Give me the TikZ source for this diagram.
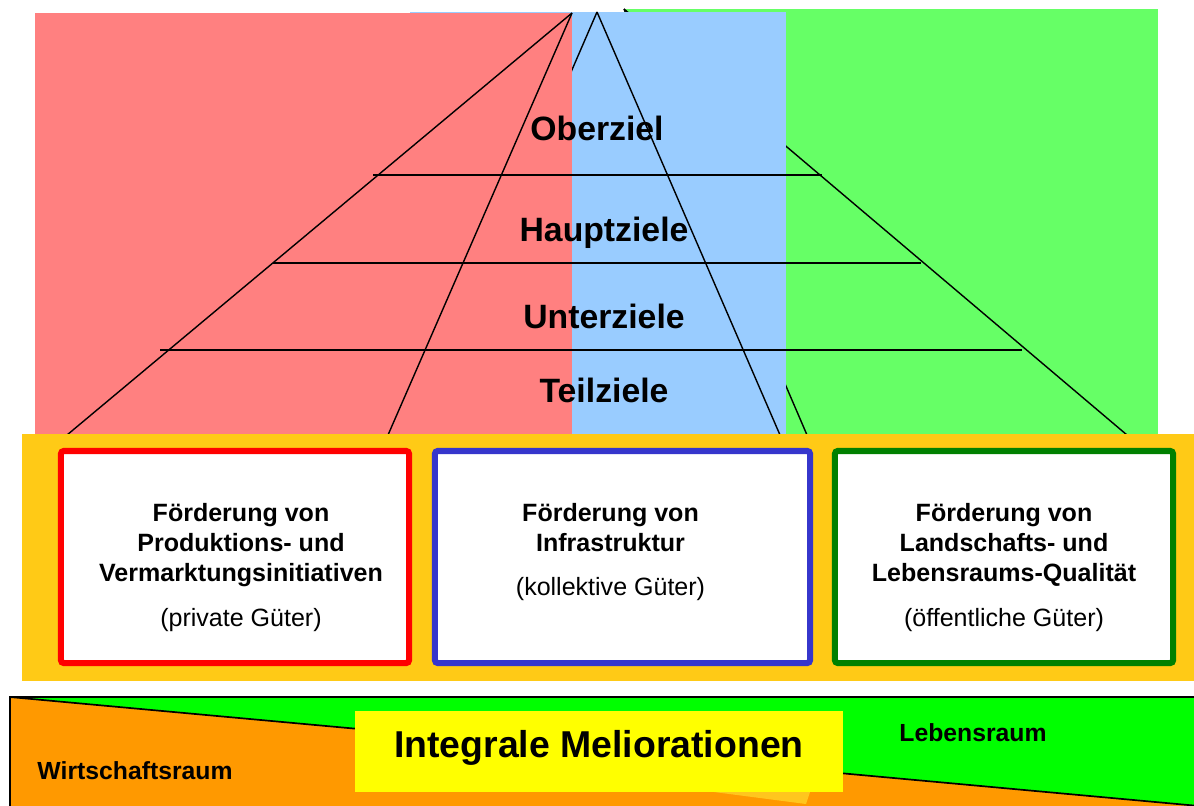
\documentclass[tikz,border=0pt]{standalone}
\usepackage{fontspec}
\setmainfont{Liberation Sans}
\usepackage{tikz}
\usetikzlibrary{positioning}
\definecolor{zonered}{HTML}{FF8080}
\definecolor{zoneblue}{HTML}{99CCFF}
\definecolor{zonegreen}{HTML}{66FF66}
\definecolor{bandyellow}{HTML}{FFCA16}
\definecolor{framered}{HTML}{FF0000}
\definecolor{frameblue}{HTML}{3636CC}
\definecolor{framegreen}{HTML}{008000}
\definecolor{econorange}{HTML}{FF9900}
\definecolor{lifegreen}{HTML}{00FF00}
\definecolor{signyellow}{HTML}{FFFF00}
\definecolor{shadeyellow}{HTML}{FFC61E}
\tikzstyle{goallevel} = [font=\fontsize{24}{28}\selectfont\bfseries, inner sep=0, anchor=base]
\tikzstyle{goalbox} = [rectangle, rounded corners=2pt, line width=4.3pt, fill=white, minimum height=5.3cm]
\tikzstyle{goaltext} = [align=center, inner sep=0, anchor=north, font=\fontsize{17.8}{21.3}\selectfont]
\tikzstyle{spacelabel} = [inner sep=0, font=\fontsize{17.6}{21}\selectfont\bfseries]
\tikzstyle{ridge} = [line width=1pt]
\tikzstyle{rung} = [line width=1pt]

\begin{document}
\begin{tikzpicture}[x=0.025cm, y=-0.025cm]
\useasboundingbox (0,0) rectangle (1194,805);

% pyramid, seen through three coloured panes
\fill[zonegreen] (624,9) rectangle (1158,435);
\draw[ridge] (624,9) -- (807,435);
\draw[ridge] (624,9) -- (1127,435);
\fill[zoneblue] (410,12) rectangle (786,435);
\draw[ridge] (597,12) -- (414,435);
\draw[ridge] (597,12) -- (780,435);
\fill[zonered] (35,13) rectangle (572,435);
\draw[ridge] (572,13) -- (67,435);
\draw[ridge] (572,13) -- (388,435);

\draw[rung] (373,175) -- (822,175);
\draw[rung] (273,263) -- (921,263);
\draw[rung] (160,350) -- (1022,350);

\node(oberziel) [goallevel] at (597,140) {Oberziel};
\node(hauptziele) [goallevel] at (604,241) {Hauptziele};
\node(unterziele) [goallevel] at (604,328) {Unterziele};
\node(teilziele) [goallevel] at (604,402) {Teilziele};

% three kinds of support
\fill[bandyellow] (22,434) rectangle (1194,681);

\node(redbox) [goalbox, draw=framered, minimum width=8.7cm] at (235,557) {};
\node(bluebox) [goalbox, draw=frameblue, minimum width=9.375cm] at (622.5,557) {};
\node(greenbox) [goalbox, draw=framegreen, minimum width=8.45cm] at (1004,557) {};

\node(redtext) [goaltext, xshift=0.15cm, below=1.375cm of redbox.north] {\textbf{Förderung von}\\ \textbf{Produktions- und}\\ \textbf{Vermarktungsinitiativen}\\[10.5pt] (private Güter)};
\node(bluetext) [goaltext, xshift=-0.3cm, below=1.375cm of bluebox.north] {\textbf{Förderung von}\\ \textbf{Infrastruktur}\\[10pt] (kollektive Güter)};
\node(greentext) [goaltext, below=1.375cm of greenbox.north] {\textbf{Förderung von}\\ \textbf{Landschafts- und}\\ \textbf{Lebensraums-Qualität}\\[10.5pt] (öffentliche Güter)};

% ground
\fill[lifegreen] (10,697) rectangle (1210,820);
\fill[econorange] (10,697) -- (1210,807) -- (1210,820) -- (10,820) -- cycle;
\draw[line width=1.2pt] (10,697) -- (1210,807);
\draw[line width=1.5pt] (10,697) rectangle (1210,820);
\fill[shadeyellow] (714,792) -- (810,792) -- (806,804) -- cycle;

\node(integral) [fill=signyellow, inner sep=0, minimum width=12.2cm, minimum height=2.025cm] at (599,751) {};
\node(integraltext) [inner sep=0, font=\fontsize{26.6}{32}\selectfont\bfseries] at (599,748) {Integrale Meliorationen};

\node(wirtschaft) [spacelabel] at (135,771) {Wirtschaftsraum};
\node(leben) [spacelabel] at (973,733) {Lebensraum};

\end{tikzpicture}
\end{document}
